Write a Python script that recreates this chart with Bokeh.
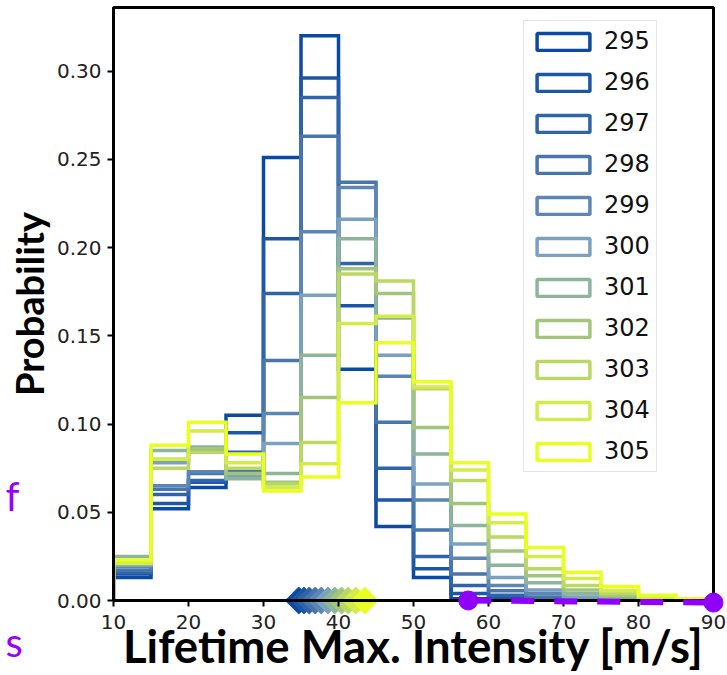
import math
from bokeh.plotting import figure
from bokeh.models import Legend, LegendItem, FixedTicker, ColumnDataSource
from bokeh.core.properties import value
from bokeh.embed import file_html
from bokeh.resources import INLINE

# ---- data ----
bin_edges = [10, 15, 20, 25, 30, 35, 40, 45, 50, 55, 60, 65, 70, 75, 80, 85, 90]
series_names = ["295", "296", "297", "298", "299", "300", "301", "302", "303", "304", "305"]
colors = ["#0b4aa3", "#1c56a6", "#3064a9", "#4775ad", "#5c86b3", "#7aa1c0",
          "#8db59a", "#a2c57c", "#bcd864", "#d3ec47", "#e8ff1f"]

h295 = [0.013, 0.052, 0.064, 0.105, 0.251, 0.320, 0.131, 0.042, 0.013, 0.001, 0.0, 0.0, 0.0, 0.0, 0.0, 0.0]
h296 = [0.015, 0.055, 0.067, 0.095, 0.205, 0.296, 0.167, 0.057, 0.018, 0.004, 0.001, 0.0005, 0.0, 0.0, 0.0, 0.0]
h297 = [0.016, 0.060, 0.068, 0.084, 0.174, 0.285, 0.191, 0.075, 0.025, 0.0085, 0.003, 0.001, 0.0005, 0.0, 0.0, 0.0]
h298 = [0.017, 0.063, 0.072, 0.073, 0.136, 0.263, 0.237, 0.101, 0.040, 0.015, 0.0055, 0.002, 0.001, 0.0, 0.0, 0.0]
h299 = [0.019, 0.065, 0.073, 0.071, 0.106, 0.209, 0.234, 0.127, 0.057, 0.024, 0.0085, 0.004, 0.001, 0.0005, 0.0, 0.0]
h300 = [0.020, 0.078, 0.085, 0.070, 0.089, 0.173, 0.216, 0.139, 0.066, 0.032, 0.013, 0.006, 0.002, 0.001, 0.0, 0.0]
h301 = [0.025, 0.085, 0.087, 0.069, 0.072, 0.139, 0.205, 0.160, 0.083, 0.0425, 0.020, 0.010, 0.004, 0.002, 0.0005, 0.0]
h302 = [0.021, 0.080, 0.086, 0.072, 0.067, 0.115, 0.188, 0.174, 0.098, 0.055, 0.028, 0.014, 0.006, 0.003, 0.001, 0.0]
h303 = [0.022, 0.075, 0.084, 0.075, 0.066, 0.0895, 0.185, 0.181, 0.120, 0.068, 0.036, 0.018, 0.0085, 0.004, 0.0015, 0.0005]
h304 = [0.021, 0.080, 0.096, 0.078, 0.064, 0.0775, 0.157, 0.161, 0.121, 0.074, 0.044, 0.025, 0.0125, 0.0055, 0.0015, 0.0005]
h305 = [0.023, 0.088, 0.101, 0.083, 0.062, 0.070, 0.112, 0.146, 0.124, 0.078, 0.049, 0.030, 0.016, 0.008, 0.003, 0.001]
heights = [h295, h296, h297, h298, h299, h300, h301, h302, h303, h304, h305]

mean_intensity = [34.7, 35.4, 36.1, 36.9, 37.7, 38.6, 39.5, 40.4, 41.3, 42.3, 43.5]

x_ticks = [10, 20, 30, 40, 50, 60, 70, 80, 90]
y_ticks = [0.0, 0.05, 0.10, 0.15, 0.20, 0.25, 0.30]
y_tick_labels = ["0.00", "0.05", "0.10", "0.15", "0.20", "0.25", "0.30"]

purple_x = [57.3, 90.0]
purple_y = [0.0, -0.0012]

# cut-off slide text fragments at the left edge
slide_texts = ["f", "s"]
slide_text_x = [-4.4, -4.4]
slide_text_y = [0.0590, -0.0235]

# ---- figure ----
p = figure(width=727, height=675, x_range=(10, 90), y_range=(0, 0.336),
           output_backend="svg", toolbar_location=None,
           min_border_left=113, min_border_right=14, min_border_top=7, min_border_bottom=74,
           x_axis_label="Lifetime Max. Intensity [m/s]", y_axis_label="Probability")
p.background_fill_color = "white"
p.border_fill_color = "white"
p.outline_line_color = "black"
p.outline_line_width = 3
p.outline_line_alpha = 1.0
p.xgrid.visible = False
p.ygrid.visible = False

p.xaxis.ticker = FixedTicker(ticks=x_ticks)
p.yaxis.ticker = FixedTicker(ticks=y_ticks)
p.yaxis.major_label_overrides = {t: l for t, l in zip(y_ticks, y_tick_labels)}
for ax in (p.xaxis[0], p.yaxis[0]):
    ax.axis_line_color = "black"
    ax.axis_line_width = 3
    ax.major_tick_line_color = "black"
    ax.major_tick_line_width = 2
    ax.major_tick_out = 6
    ax.major_tick_in = 0
    ax.minor_tick_out = 0
    ax.minor_tick_in = 0
    ax.major_label_text_font = "DejaVu Sans"
    ax.major_label_text_font_size = "20px"
    ax.major_label_text_color = "#222222"
    ax.axis_label_text_font = "Lato"
    ax.axis_label_text_font_style = "bold"
    ax.axis_label_text_color = "black"
p.xaxis.axis_label_text_font_size = "45.5px"
p.yaxis.axis_label_text_font_size = "38px"
p.xaxis.major_label_standoff = 8
p.xaxis.axis_label_standoff = -14
p.yaxis.major_label_standoff = 6
p.yaxis.axis_label_standoff = 2

# step outlines (histtype='step')
for hs, c in zip(heights, colors):
    xs = [bin_edges[0]]
    ys = [0.0]
    for i, h in enumerate(hs):
        xs += [bin_edges[i], bin_edges[i + 1]]
        ys += [h, h]
    xs.append(bin_edges[-1])
    ys.append(0.0)
    p.line(xs, ys, line_color=c, line_width=3.5, line_join="miter")

# legend proxies (outlined rectangles, no visible data)
nan = float("nan")
items = []
for name, c in zip(series_names, colors):
    src = ColumnDataSource(dict(left=[nan], right=[nan], top=[nan], bottom=[nan]))
    r = p.quad(left="left", right="right", top="top", bottom="bottom", source=src,
               fill_color="white", fill_alpha=0.0, line_color=c, line_width=3.5)
    items.append(LegendItem(label=name, renderers=[r], index=0))
legend = Legend(items=items, location=(410, 128), orientation="vertical",
                label_text_font="DejaVu Sans", label_text_font_size="24px",
                label_text_color="#111111",
                glyph_width=66, glyph_height=21, label_standoff=8, label_height=28,
                spacing=13, padding=6, margin=0,
                border_line_color="#cccccc", border_line_width=1.5,
                background_fill_color="white", background_fill_alpha=0.85)
p.add_layout(legend)

# mean markers
p.scatter(x=mean_intensity, y=[0.0] * len(mean_intensity), marker="square",
          angle=math.pi / 4, size=19, fill_color=colors, line_color=colors, level="guide")

# purple slide annotation
p.line(purple_x, purple_y, line_color="#9000ff", line_width=6, line_dash="23 20", level="overlay")
p.scatter(purple_x, purple_y, size=19, fill_color="#9000ff", line_color="#9000ff", level="overlay")

p.text(x=slide_text_x, y=slide_text_y, text=slide_texts, text_color="#9900ff",
       text_font=value("Lato"), text_font_size="40px", text_align="left",
       text_baseline="alphabetic", level="overlay")

open("out.html", "w").write(file_html(p, INLINE))
